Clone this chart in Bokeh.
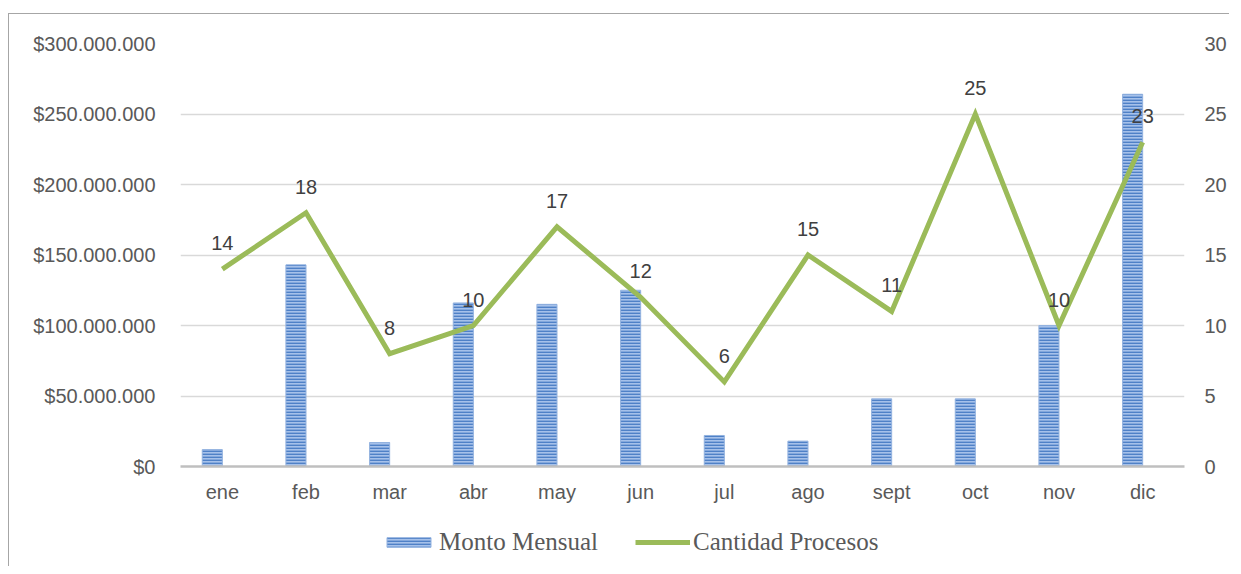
from bokeh.plotting import figure
from bokeh.models import (Range1d, LinearAxis, FactorRange, ColumnDataSource, LabelSet,
                          FixedTicker, Legend, LegendItem)
from bokeh.layouts import column
from bokeh.transform import dodge
from bokeh.core.properties import value
from bokeh.embed import file_html
from bokeh.resources import INLINE

months = ["ene", "feb", "mar", "abr", "may", "jun", "jul", "ago", "sept", "oct", "nov", "dic"]
monto = [12e6, 143e6, 17e6, 116e6, 115e6, 125e6, 22e6, 18e6, 48e6, 48e6, 100e6, 264e6]
procesos = [14, 18, 8, 10, 17, 12, 6, 15, 11, 25, 10, 23]
left_ticks = [0, 50e6, 100e6, 150e6, 200e6, 250e6, 300e6]
left_labels = ["$0", "$50.000.000", "$100.000.000", "$150.000.000", "$200.000.000",
               "$250.000.000", "$300.000.000"]
right_ticks = [0, 5, 10, 15, 20, 25, 30]
series_names = ["Monto Mensual", "Cantidad Procesos"]

src = ColumnDataSource(dict(m=months, monto=monto, proc=procesos,
                            lbl=[str(v) for v in procesos]))

FONT = "Liberation Sans"
TXT = "#595959"
BAR_STYLE = dict(fill_color="#A6C1EA", line_color="#93B2DF", line_width=1,
                 hatch_pattern="horizontal_line", hatch_color="#4F81C7",
                 hatch_scale=3, hatch_weight=1.8)
LINE_STYLE = dict(line_color="#9BBB59", line_width=5)

p = figure(x_range=FactorRange(*months, range_padding=0), y_range=Range1d(0, 300e6),
           width=1220, height=502, output_backend="svg", toolbar_location=None,
           min_border_left=171, min_border_right=44, min_border_top=29, min_border_bottom=50,
           background_fill_color="white", border_fill_color="white")
p.outline_line_color = None
p.extra_y_ranges = {"right": Range1d(0, 30)}

p.vbar(x=dodge("m", -0.12, range=p.x_range), top="monto", width=0.24, source=src, **BAR_STYLE)
p.line(x="m", y="proc", source=src, y_range_name="right", line_join="miter", **LINE_STYLE)

labels = LabelSet(x="m", y="proc", text="lbl", source=src, y_range_name="right",
                  text_align="center", text_baseline="middle", y_offset=26,
                  text_font=value(FONT), text_font_size="20px", text_color="#404040")
p.add_layout(labels)


def style_axis(ax, standoff):
    ax.major_tick_line_color = None
    ax.minor_tick_line_color = None
    ax.major_tick_out = 0
    ax.major_tick_in = 0
    ax.minor_tick_out = 0
    ax.minor_tick_in = 0
    ax.major_label_standoff = standoff
    ax.major_label_text_font = FONT
    ax.major_label_text_font_size = "20px"
    ax.major_label_text_color = TXT


ya = p.yaxis[0]
ya.ticker = FixedTicker(ticks=left_ticks)
ya.major_label_overrides = {t: l for t, l in zip(left_ticks, left_labels)}
ya.axis_line_color = None
style_axis(ya, 25)

ra = LinearAxis(y_range_name="right", ticker=FixedTicker(ticks=right_ticks))
ra.axis_line_color = None
style_axis(ra, 20)
p.add_layout(ra, "right")

xa = p.xaxis[0]
xa.axis_line_color = "#BFBFBF"
xa.axis_line_width = 2.5
style_axis(xa, 14)

p.xgrid.grid_line_color = None
p.ygrid.ticker = FixedTicker(ticks=left_ticks)
p.ygrid.grid_line_color = "#D9D9D9"
p.ygrid.grid_line_width = 1.5

# legend strip below the chart (its renderers reuse the data but lie far outside its view)
lg = figure(width=1220, height=50, output_backend="svg", toolbar_location=None,
            x_range=FactorRange(*months), y_range=Range1d(1e15, 1.01e15),
            min_border=0, min_border_left=0, min_border_right=0,
            min_border_top=0, min_border_bottom=0)
lg.axis.visible = False
lg.grid.visible = False
lg.outline_line_color = None
lb = lg.vbar(x="m", top="monto", width=0.24, source=src, **BAR_STYLE)
ll = lg.line(x="m", y="proc", source=src, **LINE_STYLE)
legend = Legend(items=[LegendItem(label=series_names[0], renderers=[lb]),
                       LegendItem(label=series_names[1], renderers=[ll])],
                orientation="horizontal", location=(201, 10),
                glyph_width=55, glyph_height=12, label_standoff=3, spacing=37,
                label_text_font="Liberation Serif", label_text_font_size="25px",
                label_text_color=TXT, border_line_color=None, background_fill_alpha=0,
                padding=0, margin=0)
lg.add_layout(legend)

layout = column(p, lg, spacing=0,
                styles={"margin-left": "8px", "margin-top": "13px",
                        "border-top": "1.5px solid #A6A6A6",
                        "border-left": "1.5px solid #A6A6A6"})

open("out.html", "w").write(file_html(layout, INLINE))
